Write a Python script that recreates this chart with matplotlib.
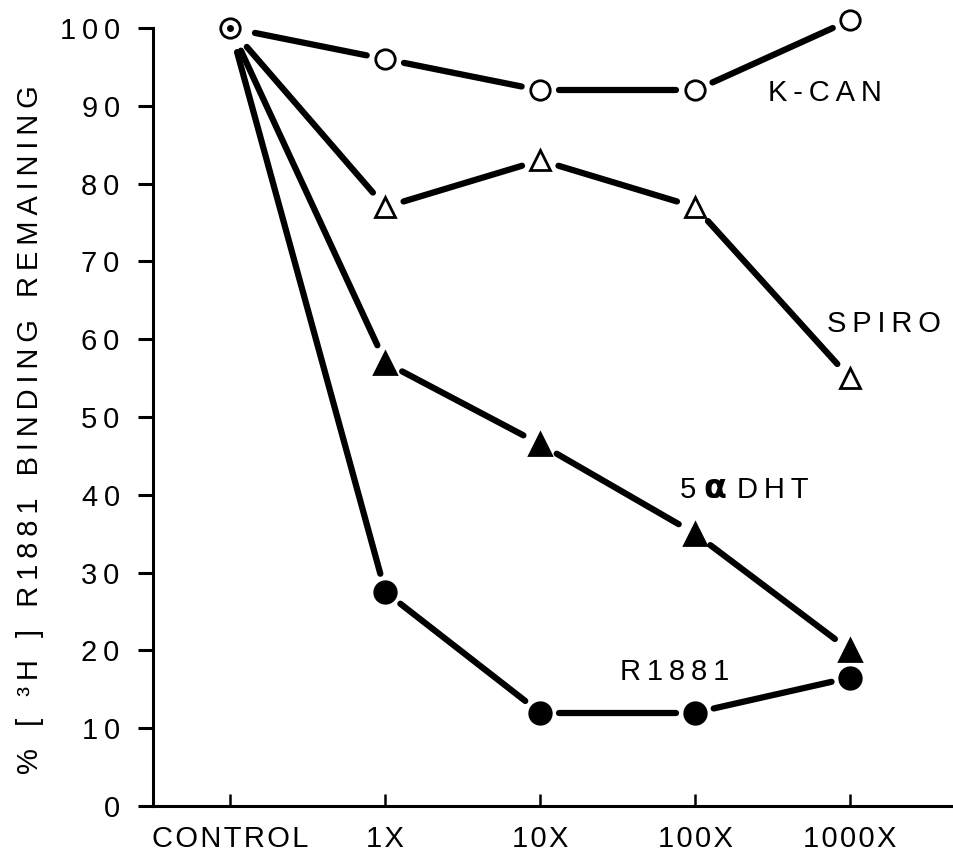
import matplotlib
matplotlib.use('Agg')
import matplotlib.pyplot as plt
import numpy as np

# ---- data ----
categories = ['CONTROL', '1X', '10X', '100X', '1000X']
kcan = [100, 96, 92, 92, 101]
spiro = [100, 77, 83, 77, 55]
dht = [100, 57, 46.5, 35, 20]
r1881 = [100, 27.5, 12, 12, 16.5]
y_ticks = [0, 10, 20, 30, 40, 50, 60, 70, 80, 90, 100]

plt.rcParams['font.family'] = ['Liberation Sans', 'DejaVu Sans']

THIN = '\u2009'
HAIR = '\u200a'


def sp(s, gap=THIN, wgap='  '):
    return wgap.join(gap.join(w) for w in s.split(' '))


W, H = 954, 855
DPI = 100
fig = plt.figure(figsize=(W / DPI, H / DPI), dpi=DPI)
ax = fig.add_axes([153 / W, 1 - 806 / H, 1 - 153 / W, (806 - 28) / H])
ax.set_xlim(-0.5, (W - 230) / 155)
ax.set_ylim(0, 100)
ax.set_autoscale_on(False)

x = list(range(len(categories)))
series = [(kcan, 'o', 'white', 14), (spiro, '^', 'white', 14),
          (dht, '^', 'black', 16), (r1881, 'o', 'black', 15.5)]

LW = 4.5          # line width in points
GAP_PX = 19.0     # distance (px) from marker centre to line end point
GAP_CTRL = 25.0


def draw_gapped(xs, ys):
    """Draw segments between successive points, leaving a gap at each marker."""
    fig.canvas.draw()
    tr = ax.transData
    inv = tr.inverted()
    pts = tr.transform(np.column_stack([xs, ys]).astype(float))
    for i in range(len(pts) - 1):
        p0, p1 = pts[i], pts[i + 1]
        d = p1 - p0
        L = np.hypot(d[0], d[1])
        u = d / L
        g0 = GAP_CTRL if i == 0 else GAP_PX
        q0 = p0 + u * g0
        q1 = p1 - u * GAP_PX
        seg = inv.transform(np.vstack([q0, q1]))
        ax.plot(seg[:, 0], seg[:, 1], color='black', lw=LW,
                solid_capstyle='round', zorder=2, clip_on=False)


for vals, m, fc, ms in series:
    draw_gapped(x, vals)
for vals, m, fc, ms in series:
    ax.plot(x[1:], vals[1:], ls='none', marker=m, ms=ms, mfc=fc,
            mec='black', mew=2, zorder=4, clip_on=False)

# control point (circle with dot)
ax.plot([x[0]], [kcan[0]], marker='o', ms=14, mfc='white', mec='black',
        mew=2, zorder=4, clip_on=False)
ax.plot([x[0]], [kcan[0]], marker='o', ms=4, color='black', zorder=5,
        clip_on=False)

for s in ('top', 'right'):
    ax.spines[s].set_visible(False)
for s in ('left', 'bottom'):
    ax.spines[s].set_linewidth(2.2)

ax.set_yticks(y_ticks)
ax.set_yticklabels([sp(str(v)) for v in y_ticks])
ax.set_xticks(x)
ax.set_xticklabels([sp(c, gap=HAIR) for c in categories])
ax.tick_params(axis='y', direction='out', length=11, width=2.2, pad=13,
               labelsize=21)
ax.tick_params(axis='x', direction='in', length=9, width=1.8, pad=14,
               labelsize=21)

# series labels
fs = 21
ax.text(3.84, 91.6, sp('K-CAN'), fontsize=fs, ha='center', va='center')
ax.text(4.22, 62.0, sp('SPIRO'), fontsize=fs, ha='center', va='center')
ax.text(2.87, 17.2, sp('R1881'), fontsize=fs, ha='center', va='center')
ax.text(2.955, 39.6, '5', fontsize=fs, ha='center', va='baseline')
ax.text(3.13, 39.6, 'α', fontsize=fs + 3, fontweight='bold', ha='center',
        va='baseline', family='DejaVu Sans')
ax.text(3.50, 39.6, sp('DHT'), fontsize=fs, ha='center', va='baseline')

fig.text(30 / W, 1 - 430 / H,
         sp('% [ ³H ] R1881 BINDING REMAINING', wgap='  ' + THIN),
         rotation=90, fontsize=21, ha='center', va='center')

fig.savefig('out.png', dpi=DPI, facecolor='white')
